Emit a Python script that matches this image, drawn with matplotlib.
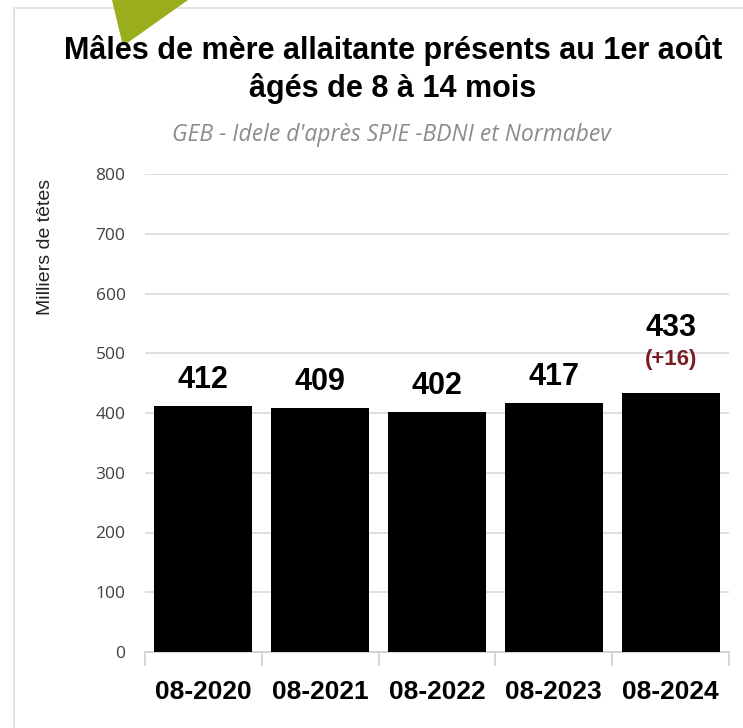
import numpy as np
import matplotlib.pyplot as plt
from matplotlib.patches import Polygon, Rectangle

# donnees
periodes = ["08-2020", "08-2021", "08-2022", "08-2023", "08-2024"]
valeurs = [412, 409, 402, 417, 433]
ecart_label = "(+16)"
yticks = [0, 100, 200, 300, 400, 500, 600, 700, 800]

narrow = ["Liberation Sans", "DejaVu Sans"]

fig = plt.figure(figsize=(7.43, 7.28), dpi=100)

# cadre et fleche verte
fig.patches.append(Rectangle((14 / 743, -0.01), 1, 1.01 - 8 / 728, transform=fig.transFigure,
                             facecolor="none", edgecolor="#e3e3e3", lw=1.5, zorder=-1))
fig.patches.append(Polygon([(112 / 743, 1), (188 / 743, 1), (123 / 743, 1 - 46 / 728)],
                           closed=True, transform=fig.transFigure,
                           facecolor="#9aad1c", edgecolor="none"))

ax = fig.add_axes([145 / 743, 1 - 652 / 728, 584 / 743, 478 / 728])
ax.patch.set_alpha(0)
x = np.arange(len(periodes))
ax.bar(x, valeurs, width=0.84, color="black", zorder=3)
ax.set_xlim(-0.5, len(periodes) - 0.5)
ax.set_ylim(0, 800)
ax.set_yticks(yticks)
ax.yaxis.grid(True, color="#d9d9d9", lw=1.2, zorder=0)
ax.set_axisbelow(True)
for s in ["top", "right", "left"]:
    ax.spines[s].set_visible(False)
ax.spines["bottom"].set_color("#d0d0d0")
ax.spines["bottom"].set_linewidth(1.2)
ax.tick_params(axis="y", length=0, pad=14, labelsize=12.5, labelcolor="#404040")
for lab in ax.get_yticklabels():
    lab.set_fontfamily(["Open Sans", "DejaVu Sans"])
ax.set_xticks(x)
ax.set_xticklabels(periodes, fontsize=19, fontweight="bold", family=narrow)
ax.set_xticks(np.arange(len(periodes) + 1) - 0.5, minor=True)
ax.tick_params(axis="x", which="major", length=0, pad=20)
ax.tick_params(axis="x", which="minor", length=10, width=1.2, color="#d0d0d0")

for i, v in enumerate(valeurs):
    if i == len(valeurs) - 1:
        ax.annotate(ecart_label, (i, v), xytext=(0, 17), textcoords="offset points",
                    ha="center", va="bottom", fontsize=16, fontweight="bold",
                    color="#7b1c24", family=narrow)
        ax.annotate(str(v), (i, v), xytext=(0, 36), textcoords="offset points",
                    ha="center", va="bottom", fontsize=22, fontweight="bold", family=narrow)
    else:
        ax.annotate(str(v), (i, v), xytext=(0, 8), textcoords="offset points",
                    ha="center", va="bottom", fontsize=22, fontweight="bold", family=narrow)

fig.text(45 / 743, 1 - 247 / 728, "Milliers de têtes", rotation=90, ha="center", va="center",
         fontsize=14, family=narrow, color="#222222")
fig.text(393 / 743, 1 - 50 / 728, "Mâles de mère allaitante présents au 1er août",
         ha="center", va="center", fontsize=22, fontweight="bold", family=narrow)
fig.text(393 / 743, 1 - 88 / 728, "âgés de 8 à 14 mois",
         ha="center", va="center", fontsize=22, fontweight="bold", family=narrow)
fig.text(391 / 743, 1 - 135 / 728, "GEB - Idele d'après SPIE -BDNI et Normabev",
         ha="center", va="center", fontsize=16.5, style="italic", color="#8c8c8c",
         family=["Open Sans", "DejaVu Sans"])

fig.savefig("out.png", dpi=100)
